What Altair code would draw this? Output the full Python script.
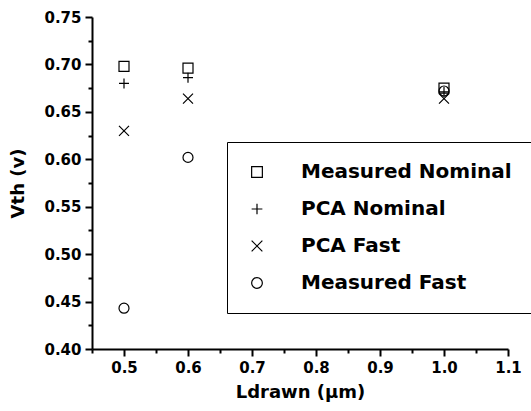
import altair as alt
import pandas as pd

# ---- data ----
ldrawn = [0.5, 0.6, 1.0]
series_names = ["Measured Nominal", "PCA Nominal", "PCA Fast", "Measured Fast"]
measured_nominal = [0.698, 0.696, 0.675]
pca_nominal = [0.680, 0.686, 0.671]
pca_fast = [0.630, 0.664, 0.664]
measured_fast = [0.443, 0.602, 0.672]

x_ticks = [0.45, 0.5, 0.55, 0.6, 0.65, 0.7, 0.75, 0.8, 0.85, 0.9, 0.95, 1.0, 1.05, 1.1]
y_ticks = [0.40, 0.425, 0.45, 0.475, 0.50, 0.525, 0.55, 0.575, 0.60, 0.625,
           0.65, 0.675, 0.70, 0.725, 0.75]

rows = []
for name, vals in zip(series_names, [measured_nominal, pca_nominal, pca_fast, measured_fast]):
    for x, v in zip(ldrawn, vals):
        rows.append({"Ldrawn": x, "Vth": v, "Series": name})
df = pd.DataFrame(rows)

shapes = ["square", "M-1,0L1,0M0,-1L0,1", "M-1,-1L1,1M-1,1L1,-1", "circle"]

FONT = "DejaVu Sans"

x_major = "abs(datum.value*10 - round(datum.value*10)) < 0.001"
y_major = "abs(datum.value*20 - round(datum.value*20)) < 0.001"

chart = alt.Chart(df).mark_point(
    filled=False, color="black", strokeWidth=1.2, opacity=1, size=100
).encode(
    x=alt.X("Ldrawn:Q", title="Ldrawn (μm)",
            scale=alt.Scale(domain=[0.45, 1.1], nice=False, zero=False),
            axis=alt.Axis(values=x_ticks, grid=False,
                          labelExpr=f"{x_major} ? format(datum.value, '.1f') : ''",
                          tickSize={"condition": {"test": x_major, "value": 7}, "value": 4},
                          labelFlush=False, labelOverlap=False)),
    y=alt.Y("Vth:Q", title="Vth (v)",
            scale=alt.Scale(domain=[0.40, 0.75], nice=False, zero=False),
            axis=alt.Axis(values=y_ticks, grid=False,
                          labelExpr=f"{y_major} ? format(datum.value, '.2f') : ''",
                          tickSize={"condition": {"test": y_major, "value": 7}, "value": 4},
                          labelFlush=False, labelOverlap=False)),
    shape=alt.Shape("Series:N",
                    scale=alt.Scale(domain=series_names, range=shapes),
                    legend=alt.Legend(title=None, orient="none", legendX=135, legendY=125,
                                      padding=20, strokeColor="black", fillColor="white",
                                      labelFont=FONT, labelFontWeight="bold", labelFontSize=20,
                                      labelColor="black", labelOffset=34, rowPadding=17,
                                      symbolSize=115, symbolStrokeWidth=1.2,
                                      symbolStrokeColor="black", labelLimit=400)),
).properties(
    width=416, height=332,
    autosize=alt.AutoSizeParams(type="none"),
    padding={"left": 92, "top": 17, "right": 23, "bottom": 62},
    background="white",
).configure_view(stroke=None).configure_axis(
    domainColor="black", domainWidth=2, tickColor="black", tickWidth=2,
    labelFont=FONT, labelFontWeight="bold", labelFontSize=15, labelColor="black",
    titleFont=FONT, titleFontWeight="bold", titleFontSize=18, titleColor="black",
    labelPadding=4,
).configure_axisX(titlePadding=8).configure_axisY(titlePadding=16)

chart.save("out.html", embed_options={"renderer": "svg", "actions": False})
